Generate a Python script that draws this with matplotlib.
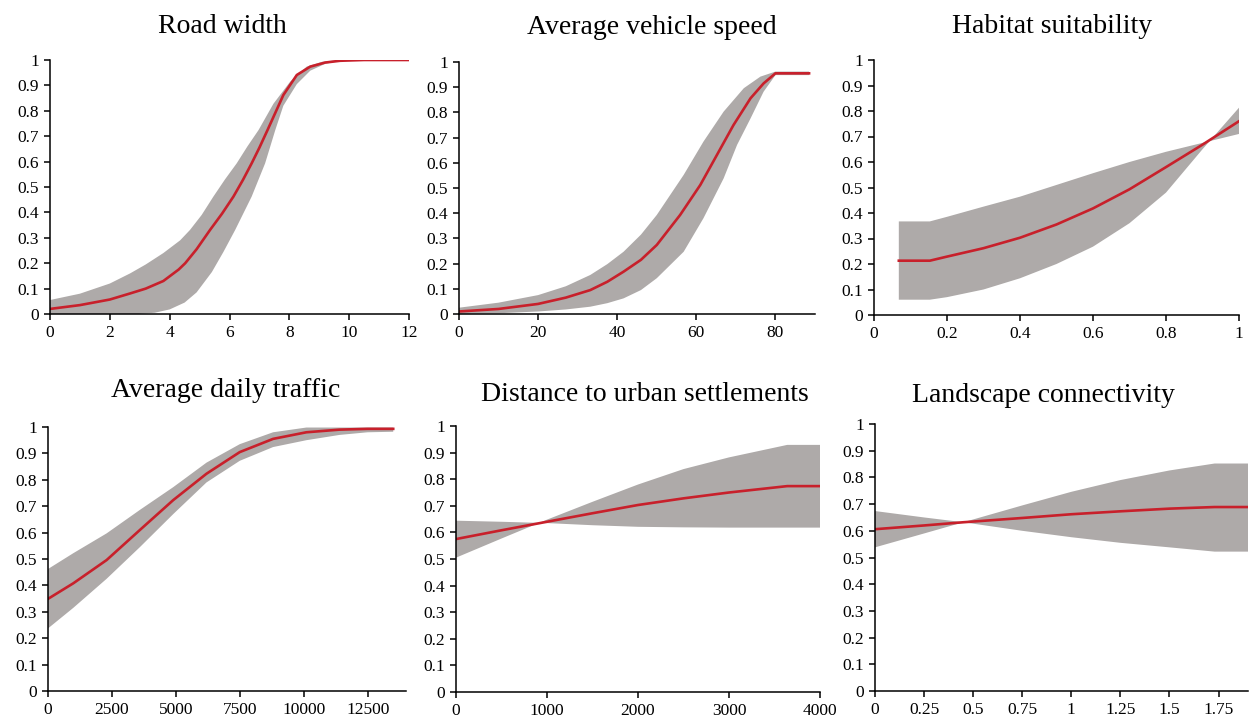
import numpy as np
import matplotlib
matplotlib.use("Agg")
import matplotlib.pyplot as plt

plt.rcParams['font.family'] = ['Liberation Serif', 'DejaVu Serif']

# --- dane (srednia + dwie krawedzie pasma) ---
road_mx = [0, 1, 2, 2.68, 3.2, 3.79, 4.3, 4.52, 4.9, 5.35, 5.75, 6.13, 6.45, 6.74, 7.0, 7.27, 7.8, 8.25, 8.7, 9.2, 9.7, 10.5, 12]
road_my = [0.02, 0.035, 0.057, 0.081, 0.1, 0.13, 0.175, 0.2, 0.255, 0.331, 0.395, 0.462, 0.528, 0.593, 0.655, 0.724, 0.862, 0.941, 0.974, 0.99, 0.997, 1.0, 1.0]
road_ux = [0, 1, 2, 2.68, 3.2, 3.79, 4.35, 4.68, 5.07, 5.46, 5.85, 6.24, 6.6, 6.97, 7.47, 8.03, 8.58, 9.1, 9.6, 10.2, 12]
road_uy = [0.055, 0.08, 0.12, 0.16, 0.195, 0.24, 0.29, 0.331, 0.39, 0.462, 0.53, 0.593, 0.66, 0.724, 0.828, 0.915, 0.974, 0.993, 0.999, 1.0, 1.0]
road_lx = [0, 2.95, 3.5, 4.0, 4.5, 4.9, 5.41, 5.8, 6.19, 6.74, 7.19, 7.53, 7.8, 8.25, 8.7, 9.2, 9.7, 10.2, 12]
road_ly = [0, 0, 0.005, 0.018, 0.045, 0.085, 0.165, 0.245, 0.331, 0.462, 0.593, 0.724, 0.82, 0.905, 0.958, 0.985, 0.996, 1.0, 1.0]

speed_mx = [0, 10, 20, 27, 33.2, 37.5, 41.6, 46, 50, 55.9, 61, 65.2, 69.4, 73.7, 77, 80, 88.5]
speed_my = [0.01, 0.02, 0.04, 0.065, 0.095, 0.128, 0.168, 0.215, 0.274, 0.393, 0.512, 0.631, 0.75, 0.856, 0.915, 0.955, 0.955]
speed_ux = [0, 10, 20, 27, 33.2, 37.5, 41.6, 46, 50, 56.8, 61.8, 66.9, 72, 76.2, 80, 88.5]
speed_uy = [0.025, 0.045, 0.075, 0.11, 0.155, 0.198, 0.247, 0.315, 0.393, 0.552, 0.684, 0.803, 0.896, 0.942, 0.962, 0.962]
speed_lx = [0, 10, 20, 27, 33.2, 37.5, 41.6, 46, 50, 56.8, 61.8, 66.9, 70.3, 73.7, 77, 80, 88.5]
speed_ly = [0.0, 0.003, 0.01, 0.018, 0.029, 0.043, 0.062, 0.095, 0.142, 0.247, 0.38, 0.538, 0.671, 0.776, 0.882, 0.948, 0.948]

habitat_x = [0.068, 0.153, 0.2, 0.3, 0.4, 0.5, 0.6, 0.7, 0.8, 0.9, 1.0]
habitat_mean = [0.213, 0.213, 0.229, 0.262, 0.303, 0.355, 0.418, 0.493, 0.58, 0.668, 0.76]
habitat_a = [0.367, 0.367, 0.385, 0.425, 0.464, 0.51, 0.556, 0.6, 0.64, 0.675, 0.71]
habitat_b = [0.06, 0.06, 0.07, 0.1, 0.144, 0.2, 0.268, 0.36, 0.48, 0.65, 0.813]

traffic_x = [0, 990, 2292, 3594, 4896, 6198, 7500, 8802, 10104, 11400, 12500, 13500]
traffic_mean = [0.349, 0.408, 0.496, 0.61, 0.723, 0.823, 0.905, 0.955, 0.98, 0.99, 0.993, 0.993]
traffic_hi = [0.462, 0.522, 0.597, 0.686, 0.772, 0.865, 0.935, 0.98, 0.998, 0.998, 0.998, 0.998]
traffic_lo = [0.237, 0.315, 0.425, 0.545, 0.67, 0.79, 0.872, 0.924, 0.95, 0.97, 0.98, 0.982]

urban_x = [0, 500, 1000, 1500, 2000, 2500, 3000, 3640, 4000]
urban_mean = [0.575, 0.608, 0.64, 0.672, 0.703, 0.728, 0.75, 0.774, 0.774]
urban_a = [0.644, 0.64, 0.635, 0.627, 0.621, 0.619, 0.618, 0.618, 0.618]
urban_b = [0.505, 0.577, 0.648, 0.715, 0.78, 0.838, 0.882, 0.929, 0.929]

conn_x = [0, 0.25, 0.45, 0.75, 1.0, 1.25, 1.5, 1.73, 1.9]
conn_mean = [0.606, 0.62, 0.632, 0.648, 0.662, 0.673, 0.683, 0.689, 0.689]
conn_a = [0.674, 0.65, 0.632, 0.6, 0.576, 0.555, 0.538, 0.522, 0.522]
conn_b = [0.538, 0.59, 0.632, 0.695, 0.746, 0.79, 0.826, 0.852, 0.852]

y_ticks = [0, 0.1, 0.2, 0.3, 0.4, 0.5, 0.6, 0.7, 0.8, 0.9, 1]
y_labels = ["0", "0.1", "0.2", "0.3", "0.4", "0.5", "0.6", "0.7", "0.8", "0.9", "1"]

W, H = 1252, 721
BAND = "#aeaaa9"
RED = "#c8202b"

# (tytul, (x,y) srednia, (x,y) krawedz 1, (x,y) krawedz 2, xmax, xticks, xlabels, box px [l, t, r, b], tytul x, tytul y)
panels = [
    ("Road width", (road_mx, road_my), (road_ux, road_uy), (road_lx, road_ly), 12,
     [0, 2, 4, 6, 8, 10, 12], None, (50, 60, 409, 314), 222, 33),
    ("Average vehicle speed", (speed_mx, speed_my), (speed_ux, speed_uy), (speed_lx, speed_ly), 90,
     [0, 20, 40, 60, 80], None, (459, 62, 815, 314), 652, 34),
    ("Habitat suitability", (habitat_x, habitat_mean), (habitat_x, habitat_a), (habitat_x, habitat_b), 1,
     [0, 0.2, 0.4, 0.6, 0.8, 1], ["0", "0.2", "0.4", "0.6", "0.8", "1"], (874, 60, 1239, 315), 1052, 33),
    ("Average daily traffic", (traffic_x, traffic_mean), (traffic_x, traffic_hi), (traffic_x, traffic_lo), 14000,
     [0, 2500, 5000, 7500, 10000, 12500], None, (48, 427, 406, 691), 226, 397),
    ("Distance to urban settlements", (urban_x, urban_mean), (urban_x, urban_a), (urban_x, urban_b), 4000,
     [0, 1000, 2000, 3000, 4000], None, (456, 426, 820, 692), 645, 401),
    ("Landscape connectivity", (conn_x, conn_mean), (conn_x, conn_a), (conn_x, conn_b), 1.9,
     [0, 0.25, 0.5, 0.75, 1, 1.25, 1.5, 1.75], ["0", "0.25", "0.5", "0.75", "1", "1.25", "1.5", "1.75"],
     (875, 424, 1248, 691), 1043, 402),
]

fig = plt.figure(figsize=(W / 100, H / 100), dpi=100)

for title, m, e1, e2, xmax, xt, xl, box, tx, ty in panels:
    l, t, r, b = box
    ax = fig.add_axes([l / W, 1 - b / H, (r - l) / W, (b - t) / H])
    # pasmo jako wielokat: krawedz 1 tam, krawedz 2 z powrotem
    px = list(e1[0]) + list(e2[0])[::-1]
    py = list(e1[1]) + list(e2[1])[::-1]
    ax.fill(px, py, color=BAND, linewidth=0, zorder=1)
    ax.plot(m[0], m[1], color=RED, linewidth=1.9, zorder=2, solid_joinstyle="round")
    ax.set_xlim(0, xmax)
    ax.set_ylim(0, 1)
    ax.set_yticks(y_ticks)
    ax.set_yticklabels(y_labels)
    ax.set_xticks(xt)
    if xl is not None:
        ax.set_xticklabels(xl)
    for s in ("top", "right"):
        ax.spines[s].set_visible(False)
    for s in ("left", "bottom"):
        ax.spines[s].set_linewidth(1.1)
    ax.tick_params(direction="out", length=4, width=1.1, labelsize=12.5, pad=4, colors="black")
    fig.text(tx / W, 1 - ty / H, title, ha="center", va="baseline", fontsize=20)

plt.savefig("out.png", dpi=100)
